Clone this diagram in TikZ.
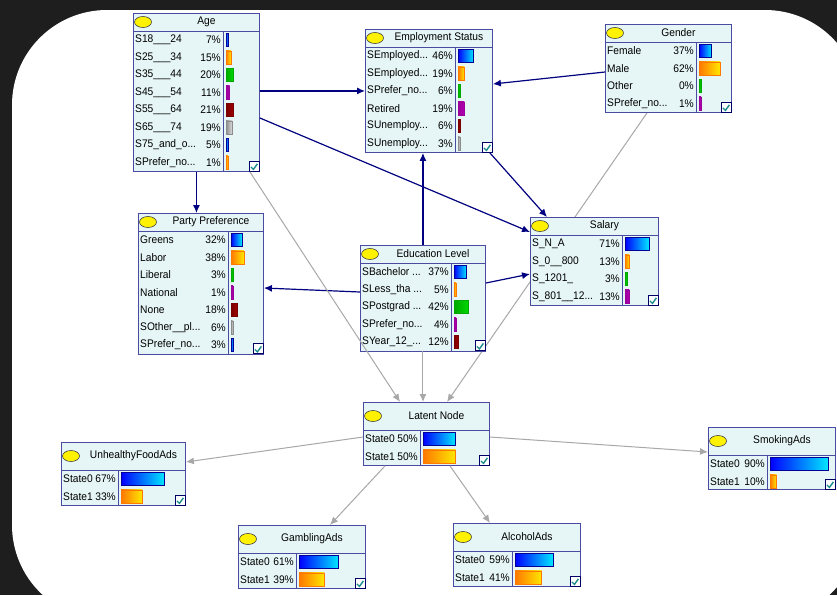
\documentclass[tikz,border=0pt]{standalone}
\usepackage{fontspec}
\setmainfont{Liberation Sans}[FakeStretch=0.93]
\usetikzlibrary{arrows.meta,positioning,calc,shapes.geometric}

\definecolor{pagedark}{HTML}{1E1E1E}
\definecolor{bnfill}{HTML}{E6F5F5}
\definecolor{bnedge}{HTML}{4A4AA0}
\definecolor{arcblue}{HTML}{000080}
\definecolor{arcgrey}{HTML}{A8A8A8}
\definecolor{tickteal}{HTML}{1C8C8C}
\definecolor{blueL}{HTML}{0000FF}   \definecolor{blueR}{HTML}{00E8FF}
\definecolor{orangeL}{HTML}{FF7800} \definecolor{orangeR}{HTML}{FFE800}
\definecolor{greenL}{HTML}{00A800}  \definecolor{greenR}{HTML}{00D800}
\definecolor{purpleL}{HTML}{9A009A} \definecolor{purpleR}{HTML}{B400B4}
\definecolor{redL}{HTML}{780000}    \definecolor{redR}{HTML}{A00000}
\definecolor{greyL}{HTML}{8C8C8C}   \definecolor{greyR}{HTML}{E0E0E0}

\newcommand{\trunc}{...}

\pgfdeclarelayer{backdrop}
\pgfdeclarelayer{behind}
\pgfsetlayers{backdrop,behind,main}

\tikzset{
  bnbox/.style={draw=bnedge, fill=bnfill, line width=0.9pt, rectangle, anchor=north west, inner sep=0pt},
  bulb/.style={ellipse, draw=black!75, fill=yellow, minimum width=17pt, minimum height=11pt, inner sep=0pt, line width=0.6pt},
  bntitle/.style={font=\fontsize{11}{13}\selectfont, inner sep=0pt},
  rowtext/.style={font=\fontsize{11}{13}\selectfont, inner sep=0pt},
  tickbox/.style={draw=arcblue!80!black, fill=white, line width=1pt, minimum size=10pt, inner sep=0pt, anchor=south east},
  causal/.style={->, draw=arcblue, line width=1.2pt},
  latent/.style={->, draw=arcgrey, line width=1pt},
  bar0/.style={draw=blue!60!black, line width=0.5pt, left color=blueL, right color=blueR},
  bar1/.style={draw=orangeL, line width=0.5pt, left color=orangeL, right color=orangeR},
  bar2/.style={draw=greenL, line width=0.5pt, left color=greenL, right color=greenR},
  bar3/.style={draw=purpleL, line width=0.5pt, left color=purpleL, right color=purpleR},
  bar4/.style={draw=redL, line width=0.5pt, left color=redL, right color=redR},
  bar5/.style={draw=greyL, line width=0.5pt, left color=greyL, right color=greyR},
}

% #1 name, #2 top left, #3 width, #4 height, #5 header height,
% #6 divider, #7 bar scale, #8 title, #9 states
\newcommand{\bnnode}[9]{%
  \node[bnbox, minimum width=#3pt, minimum height=#4pt] (#1) at #2 {};
  \draw[bnedge, line width=0.9pt] ([yshift=-#5pt]#1.north west) -- ([yshift=-#5pt]#1.north east);
  \draw[bnedge, line width=0.9pt] ([xshift=#6pt,yshift=-#5pt]#1.north west) -- ([xshift=#6pt]#1.south west);
  \node[bulb] at ([xshift=10pt,yshift=-#5pt/2]#1.north west) {};
  \node[bntitle] at ([xshift=10pt,yshift=-#5pt/2]#1.north) {#8};
  \foreach \lab/\pct [count=\i from 0] in {#9} {
    \pgfmathtruncatemacro{\c}{mod(\i,6)}
    \pgfmathsetmacro{\w}{max(2,\pct*#7)}
    \coordinate (row) at ([yshift=-#5pt-(\i+0.5)*17.5pt]#1.north west);
    \node[rowtext, anchor=west] at ([xshift=2pt]row) {\lab};
    \node[rowtext, anchor=east] at ([xshift=#6pt-2pt]row) {\pct\%};
    \draw[bar\c] ([xshift=#6pt+3pt,yshift=-6.5pt]row) rectangle ++(\w pt,13pt);
  }
  \node[tickbox] (#1-tick) at (#1.south east) {};
  \draw[tickteal, line width=1.4pt] ([xshift=2pt,yshift=5pt]#1-tick.south west)
    -- ([xshift=4.5pt,yshift=2.5pt]#1-tick.south west) -- ([xshift=8.5pt,yshift=8pt]#1-tick.south west);
}

\begin{document}
\begin{tikzpicture}[x=1pt,y=-1pt,>={Latex[length=8pt,width=7pt]}]
  \useasboundingbox (0,0) rectangle (837,595);
  \begin{pgfonlayer}{backdrop}
    \clip (0,0) rectangle (837,595);
    \fill[pagedark] (0,0) rectangle (837,595);
    \fill[white, rounded corners=95pt] (12,10) rectangle (860,620);
  \end{pgfonlayer}

  % nodes
  \bnnode{age}{(133,13)}{126}{158}{18}{90}{0.34}{Age}
    {S18\_\_\_24/7, S25\_\_\_34/15, S35\_\_\_44/20, S45\_\_\_54/11, S55\_\_\_64/21,
     S65\_\_\_74/19, S75\_and\_o\trunc/5, SPrefer\_no\trunc/1}
  \bnnode{emp}{(365,29)}{127}{123}{18}{90}{0.34}{Employment Status}
    {SEmployed\trunc/46, SEmployed\trunc/19, SPrefer\_no\trunc/6, Retired/19, SUnemploy\trunc/6, SUnemploy\trunc/3}
  \bnnode{gender}{(605,24)}{126}{88}{18}{91}{0.34}{Gender}
    {Female/37, Male/62, Other/0, SPrefer\_no\trunc/1}
  \bnnode{party}{(138,213)}{125}{140.5}{18}{90}{0.34}{Party Preference}
    {Greens/32, Labor/38, Liberal/3, National/1, None/18, SOther\_\_pl\trunc/6, SPrefer\_no\trunc/3}
  \bnnode{edu}{(360,245)}{125}{105.5}{18}{91}{0.34}{Education Level}
    {SBachelor \trunc/37, SLess\_tha \trunc/5, SPostgrad \trunc/42, SPrefer\_no\trunc/4, SYear\_12\_\trunc/12}
  \bnnode{salary}{(530,217)}{128}{88}{18}{92}{0.34}{Salary}
    {S\_N\_A/71, S\_0\_\_800/13, S\_1201\_/3, S\_801\_\_12\trunc/13}
  \bnnode{latent}{(363,402)}{126}{63}{28}{57}{0.65}{Latent Node}
    {State0/50, State1/50}
  \bnnode{unhealthy}{(61,442)}{124}{63}{28}{57}{0.65}{UnhealthyFoodAds}
    {State0/67, State1/33}
  \bnnode{smoking}{(708,427)}{127}{62}{28}{59}{0.65}{SmokingAds}
    {State0/90, State1/10}
  \bnnode{gambling}{(238,525)}{127}{63}{28}{58}{0.65}{GamblingAds}
    {State0/61, State1/39}
  \bnnode{alcohol}{(453,523)}{127}{63}{28}{59}{0.65}{AlcoholAds}
    {State0/59, State1/41}

  % arcs
  \draw[causal] (age.east |- emp.west) -- (emp.west);
  \draw[causal] (age.south) -- (age.south |- party.north);
  \draw[causal] ($(age.north east)+(0,105)$) -- ($(salary.north west)+(0,15)$);
  \draw[causal] ($(gender.north west)+(0,48)$) -- ($(emp.north east)+(0,55)$);
  \draw[causal] ($(emp.south east)+(-3,0)$) -- ($(salary.north west)+(17,0)$);
  \draw[causal] (edu.north) -- (edu.north |- emp.south);
  \draw[causal] ($(edu.north west)+(0,47)$) -- ($(party.north east)+(0,75)$);
  \draw[causal] ($(edu.north east)+(0,38)$) -- ($(salary.north west)+(0,57)$);

  \begin{pgfonlayer}{behind}
    \draw[latent] ($(gender.south west)+(42,0)$) -- ($(latent.north west)+(84,0)$);
  \end{pgfonlayer}
  \draw[latent] ($(age.south east)+(-10,0)$) -- ($(latent.north west)+(37,0)$);
  \draw[latent] (edu.south) -- (edu.south |- latent.north);
  \draw[latent] ($(latent.north west)+(0,35)$) -- ($(unhealthy.north east)+(0,20)$);
  \draw[latent] ($(latent.north east)+(0,35)$) -- ($(smoking.north west)+(0,25)$);
  \draw[latent] ($(latent.south west)+(22,0)$) -- ($(gambling.north west)+(92,0)$);
  \draw[latent] ($(latent.south west)+(87,0)$) -- ($(alcohol.north west)+(37,0)$);
\end{tikzpicture}
\end{document}
